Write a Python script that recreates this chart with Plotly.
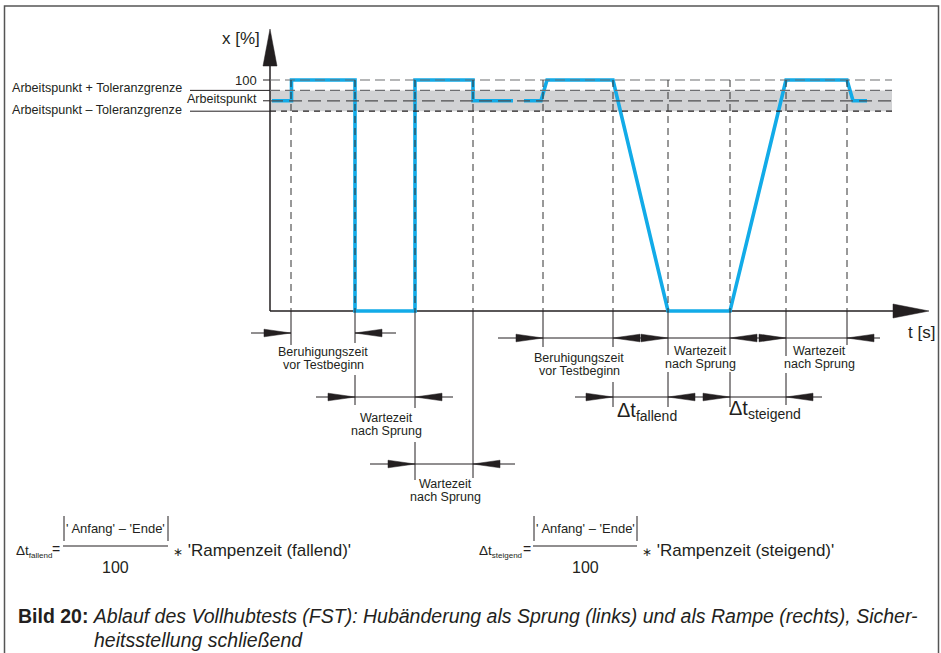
import plotly.graph_objects as go

W, H = 941, 653

# Abbildung der Achsen auf Pixel: 5 px je Sekunde ab x=270, 2.31 px je % ab y=311
T0_PX, T_SCALE = 270, 5.0
X0_PX, X_SCALE = 311, 2.31

# Hub-Niveaus [%]
hub_100 = 100
arbeitspunkt = 91
toleranz = 4.5

# Hubverlauf (None = Unterbrechung der Linie)
t_verlauf = [0.4, 4.3, 4.3, 17, 17, 29, 29, 40.6, 40.6, 48.6, None,
             50.8, 54.2, 55.4, 68.6, 79.6, 92, 103.2, 115.4, 116.6, 119.4]
x_verlauf = [91, 91, 100, 100, 0, 0, 100, 100, 91, 91, None,
             91, 91, 100, 100, 0, 0, 100, 100, 91, 91]

# Zeitmarken der gestrichelten Hilfslinien [s]
t_marken = [4.2, 17, 29, 40.6, 54.6, 68.6, 79.6, 92, 103.2, 115.4]
t_raster_ende = 124.4

# Maßketten: Zeitspannen je Zeile
ketten = [
    dict(y=333, spannen=[(4.2, 17)], links=40, rechts=41, durchgehend=False),
    dict(y=397, spannen=[(17, 29)], links=39, rechts=38, durchgehend=True),
    dict(y=464, spannen=[(29, 40.6)], links=45, rechts=42, durchgehend=True),
    dict(y=338, spannen=[(54.6, 68.6), (79.6, 92), (103.2, 115.4)], links=45, rechts=33, durchgehend=True),
    dict(y=397, spannen=[(68.6, 79.6), (92, 103.2)], links=38, rechts=36, durchgehend=True),
]

# Maßhilfslinien unter der Zeitachse (y-Abschnitte in px)
hilfslinien = {
    4.2: [(311, 345)],
    17: [(311, 343), (375, 405)],
    29: [(311, 408), (442, 480)],
    40.6: [(311, 478)],
    54.6: [(311, 347)],
    68.6: [(311, 347), (382, 407)],
    79.6: [(311, 355), (372, 407)],
    92: [(311, 355), (372, 407)],
    103.2: [(311, 356), (373, 405)],
    115.4: [(311, 345)],
}


def tx(px):
    return (px - T0_PX) / T_SCALE


def vy(py):
    return (X0_PX - py) / X_SCALE


FONT = "Liberation Sans, Arial, sans-serif"
TXT = "#231f20"
BLAU = "#12abe8"

shapes = []
annotations = []


def linie(t1, v1, t2, v2, farbe=TXT, breite=1, dash="solid", layer="above"):
    shapes.append(dict(type="line", xref="x", yref="y", x0=t1, y0=v1, x1=t2, y1=v2,
                       line=dict(color=farbe, width=breite, dash=dash), layer=layer))


def dreieck(punkte, layer="above"):
    p = " L ".join(f"{a},{b}" for a, b in punkte)
    shapes.append(dict(type="path", xref="x", yref="y", path=f"M {p} Z",
                       fillcolor=TXT, line=dict(color=TXT, width=0.5), layer=layer))


def pfeil_h(t_spitze, py, richtung, lang=27, halb=3.8):
    v = vy(py)
    tb = t_spitze - richtung * lang / T_SCALE
    dreieck([(t_spitze, v), (tb, v + halb / X_SCALE), (tb, v - halb / X_SCALE)])


def text(s, x, y, size=12, anchor="center", farbe=TXT):
    annotations.append(dict(text=s, x=tx(x), y=vy(y), xref="x", yref="y", showarrow=False,
                            xanchor=anchor, yanchor="middle",
                            font=dict(family=FONT, size=size, color=farbe)))


def klein(s, size):
    return f"<span style='font-size:{size}px'>{s}</span>"


# Rahmen
shapes.append(dict(type="path", xref="paper", yref="paper",
                   path=f"M {4.5/W},0 L {4.5/W},{1-6/H} L {938.5/W},{1-6/H} L {938.5/W},0",
                   line=dict(color="#555", width=1.5)))

# Toleranzband
ap_o = arbeitspunkt + toleranz
ap_u = arbeitspunkt - toleranz
shapes.append(dict(type="rect", xref="x", yref="y", x0=0, x1=t_raster_ende, y0=ap_u, y1=ap_o,
                   fillcolor="#d1d2d4", line=dict(width=0), layer="below"))

# Achsen
linie(0, 0, tx(895), 0, breite=1.5, layer="below")
linie(0, 0, 0, vy(62), breite=1.5, layer="below")
dreieck([(tx(929), 0), (tx(893), vy(304)), (tx(893), vy(318))])
dreieck([(0, vy(29)), (tx(263), vy(66)), (tx(277), vy(66))])

# horizontale Hilfslinien
linie(0, hub_100, t_raster_ende, hub_100, farbe="#6d6e71", breite=1.2, dash="10px,5px")
linie(0, ap_o, t_raster_ende, ap_o, farbe="#6d6e71", breite=1.2, dash="10px,5px")
linie(0, arbeitspunkt, t_raster_ende, arbeitspunkt, farbe="#4d4d4f", breite=1.2, dash="13px,6px")
linie(0, ap_u, t_raster_ende, ap_u, farbe=TXT, breite=1.2, dash="6px,5px")

# Beschriftung der Hubachse
linie(tx(263), hub_100, 0, hub_100, breite=1)
linie(tx(263), arbeitspunkt, 0, arbeitspunkt, breite=1)
linie(tx(190), ap_o, 0, ap_o, breite=1)
linie(tx(190), ap_u, 0, ap_u, breite=1)

# vertikale Hilfslinien
for t in t_marken:
    linie(t, hub_100, t, 0, farbe="#333", breite=1, dash="7px,5px")

# Maßhilfslinien
for t, abschnitte in hilfslinien.items():
    for y1, y2 in abschnitte:
        linie(t, vy(y1), t, vy(y2), breite=1)

# Maßketten
for k in ketten:
    v = vy(k["y"])
    t_a = k["spannen"][0][0]
    t_b = k["spannen"][-1][1]
    if k["durchgehend"]:
        linie(t_a - k["links"] / T_SCALE, v, t_b + k["rechts"] / T_SCALE, v, breite=1)
    else:
        linie(t_a - k["links"] / T_SCALE, v, t_a, v, breite=1)
        linie(t_b, v, t_b + k["rechts"] / T_SCALE, v, breite=1)
    for a, b in k["spannen"]:
        pfeil_h(a, k["y"], 1)
        pfeil_h(b, k["y"], -1)

# Texte
text("x [%]", 241, 38, 17)
text("t [s]", 921, 332, 17)
text("100", 259, 80, 13, "right")
text("Arbeitspunkt", 259, 99, 12.5, "right")
text("Arbeitspunkt + Toleranzgrenze", 10, 88, 12.6, "left")
text("Arbeitspunkt – Toleranzgrenze", 10, 110, 12.6, "left")

for s, x, y in [("Beruhigungszeit", 323, 352), ("vor Testbeginn", 323, 365),
                ("Wartezeit", 386, 418), ("nach Sprung", 386, 431),
                ("Wartezeit", 445, 484), ("nach Sprung", 445, 497),
                ("Beruhigungszeit", 579, 358), ("vor Testbeginn", 579, 371),
                ("Wartezeit", 700, 351), ("nach Sprung", 700, 364),
                ("Wartezeit", 819, 351), ("nach Sprung", 819, 364)]:
    text(s, x, y, 12.5)

text("Δt<sub>" + klein("fallend", 14) + "</sub>", 615, 411, 20, "left")
text("Δt<sub>" + klein("steigend", 14) + "</sub>", 727, 409, 20, "left")

# Formeln
for x_dt, x0, x1, sub, x_eq in [(14, 63, 168, "fallend", 56),
                                (477, 533, 637, "steigend", 527)]:
    xm = (x0 + x1) / 2
    text("Δt<sub>" + klein(sub, 8) + "</sub>", x_dt, 551, 13.5, "left")
    text("=", x_eq, 549, 14)
    text("' Anfang' – 'Ende'", xm, 528, 13)
    for xb in (x0 + 1, x1):
        linie(tx(xb), vy(516), tx(xb), vy(541), breite=1)
    linie(tx(x0), vy(546), tx(x1), vy(546), breite=1.2)
    text("100", xm, 567, 16)
    text(klein("∗", 12) + " 'Rampenzeit (" + sub + ")'", x1 + 3, 550, 17, "left")

# Bildunterschrift
text("<b>Bild 20:</b> <i>Ablauf des Vollhubtests (FST): Hubänderung als Sprung (links) "
     "und als Rampe (rechts), Sicher-</i>", 16, 616, 19.5, "left")
text("<i>heitsstellung schließend</i>", 92, 640, 19.5, "left")

fig = go.Figure()
fig.add_trace(go.Scatter(x=t_verlauf, y=x_verlauf, mode="lines",
                         line=dict(color=BLAU, width=3.6), connectgaps=False,
                         hoverinfo="skip", showlegend=False))

fig.update_layout(
    width=W, height=H,
    margin=dict(l=0, r=0, t=0, b=0),
    paper_bgcolor="white", plot_bgcolor="white",
    xaxis=dict(range=[tx(0), tx(W)], visible=False, fixedrange=True),
    yaxis=dict(range=[vy(H), vy(0)], visible=False, fixedrange=True),
    shapes=shapes,
    annotations=annotations,
    showlegend=False,
)

fig.write_html("out.html", config={"displayModeBar": False},
               post_script="document.body.style.margin='0';")
